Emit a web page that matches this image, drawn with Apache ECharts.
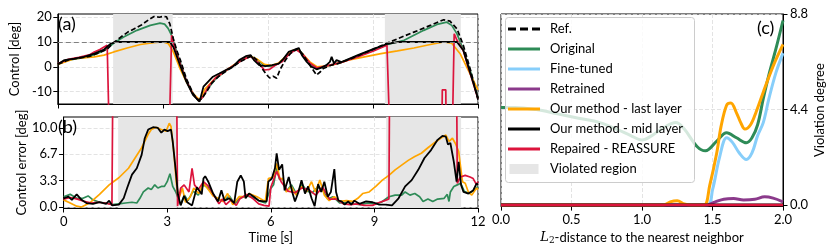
<!DOCTYPE html>
<html><head><meta charset="utf-8">
<script src="https://cdn.jsdelivr.net/npm/echarts@6/dist/echarts.min.js"></script>
<style>html,body{margin:0;padding:0;background:#fff}#c{width:830px;height:250px}</style>
</head><body><div id="c"></div>
<script>
// ---------- tick values ----------
const timeTicks = [0, 3, 6, 9, 12];
const ctrlTicks = [-10, 0, 10, 20];
const errTicks = [0, 10 / 3, 20 / 3, 10];
const distTicks = [0, 0.5, 1, 1.5, 2];
const violTicks = [0, 4.4, 8.8];
const threshold = 10;
const violatedRegions = [[1.58, 3.28], [9.34, 11.51]];

// ---------- (a) control [deg] vs time [s] ----------
const refA = [[0,1],[0.3,2.8],[0.6,3.5],[0.9,4.2],[1.2,5.8],[1.4,7],[1.6,9.8],[1.8,12],[2.0,14],[2.2,15.5],[2.4,17],[2.6,19],[2.75,20.3],[2.9,20],[3.0,20.3],[3.1,20.2],[3.2,17.3],[3.3,11.3],[3.4,6.5],[3.5,2.7],[3.67,-4.7],[3.86,-10.7],[4.0,-13.3],[4.1,-13],[4.25,-10],[4.4,-6.5],[4.6,-3.8],[4.8,-1.8],[5.0,0],[5.2,2],[5.4,3.5],[5.55,4.5],[5.7,2.5],[5.85,-1],[5.95,-3],[6.05,-4.5],[6.15,-3.8],[6.25,-4.6],[6.35,-1],[6.5,2.7],[6.65,5.5],[6.85,7.3],[7.0,5],[7.16,1.5],[7.3,-1.5],[7.39,-3.3],[7.5,-2],[7.58,-0.7],[7.7,0],[7.82,0.7],[8.0,1.3],[8.38,3.3],[8.95,6.7],[9.32,9],[9.7,11.3],[10.17,14],[10.64,16.7],[10.9,18.3],[11.02,19],[11.2,18.4],[11.4,15.3],[11.58,8.7],[11.8,-2],[12,-13.3]];
const origA = [[0,1],[0.3,2.7],[0.6,3.4],[0.9,4.1],[1.2,5.8],[1.4,7.2],[1.6,9.6],[1.88,12],[2.26,14.7],[2.64,16.7],[2.92,17.6],[3.05,17.2],[3.15,15.5],[3.25,12.7],[3.35,8],[3.5,1.5],[3.67,-5.5],[3.86,-11],[4.02,-13.8],[4.15,-12],[4.3,-8.5],[4.5,-5],[4.8,-1.6],[5.0,0.3],[5.3,3],[5.5,4.4],[5.7,2.8],[5.9,0.5],[6.1,0.2],[6.3,1.3],[6.5,4],[6.7,6.5],[6.87,7.3],[7.0,5],[7.2,1.5],[7.4,-0.5],[7.6,0],[7.8,0.8],[8.1,1.8],[8.6,4.6],[9.05,7.2],[9.42,9],[9.89,10.7],[10.45,14.7],[10.83,17.1],[11.11,18],[11.25,16.7],[11.4,13.3],[11.58,7],[11.8,-2.5],[12,-12.5]];
const lastA = [[0,1],[0.47,3.3],[1.04,4],[1.32,4.7],[1.6,6],[1.98,7.6],[2.36,9],[2.73,9.7],[3.01,10],[3.16,9.3],[3.3,6],[3.49,-0.7],[3.67,-6],[3.86,-10.7],[4.0,-12.7],[4.08,-13],[4.2,-9],[4.5,-4.5],[4.8,-1.5],[5.0,0.5],[5.3,3],[5.5,4.3],[5.7,3],[5.9,1],[6.1,0.5],[6.3,1.5],[6.5,4],[6.7,6.5],[6.85,7],[7.0,5],[7.2,2],[7.4,0],[7.6,0.3],[7.82,0.7],[8.29,2.7],[8.76,4],[9.23,5.3],[9.7,6.4],[10.17,7.6],[10.64,9],[11.02,10],[11.25,9.5],[11.49,5.3],[11.77,-2.7],[12,-9.3]];
const midA = [[0,1],[0.19,2.7],[0.47,3.3],[0.75,4],[1.04,5.3],[1.32,7],[1.51,9.3],[1.65,10],[2.0,10],[2.5,10],[3.0,10],[3.2,10],[3.3,8],[3.49,0.7],[3.67,-6],[3.86,-11.3],[4.05,-14],[4.16,-8],[4.43,-4],[4.61,-2.7],[4.8,-1.3],[4.99,0],[5.18,2.7],[5.37,4.3],[5.51,4.7],[5.6,2.7],[5.75,0.7],[5.93,0.3],[6.12,0.7],[6.31,1.3],[6.45,3.3],[6.59,6],[6.73,6.7],[6.88,7.6],[6.97,4.7],[7.11,2],[7.25,0],[7.39,-1],[7.53,-0.3],[7.67,0.7],[7.77,2],[7.82,4],[7.89,1.3],[7.96,2.7],[8.1,1.9],[8.57,4.7],[9.04,7.3],[9.42,9.3],[9.7,10],[10.5,10],[11.4,10],[11.58,6.7],[12,-12.7]];
const reasA = [[0,1.2],[0.3,3],[0.6,3.8],[0.9,4.8],[1.04,6],[1.2,7],[1.32,8],[1.41,8.7],[1.49,-40],[3.16,-40],[3.25,12.7],[3.35,7],[3.5,1],[3.67,-5.5],[3.86,-11],[4.03,-13.8],[4.15,-12],[4.3,-8],[4.5,-4.5],[4.8,-1.5],[5.0,0.3],[5.3,3],[5.5,4.2],[5.7,2],[5.9,-1.3],[6.05,-1],[6.2,0.5],[6.4,2],[6.6,5],[6.8,7],[7.0,5],[7.2,1.5],[7.4,-0.5],[7.6,0.2],[7.8,0.8],[8.1,1.8],[8.6,4.2],[9.0,6.3],[9.4,8.7],[9.51,-40],[10.96,-40],[10.98,-9.3],[11.08,-9.3],[11.1,-40],[11.25,-40],[11.32,13.3],[11.4,10.7],[11.58,6.5],[12,-13]];

// ---------- (b) control error [deg] vs time [s] ----------
const origB = [[0,1.3],[0.19,1.6],[0.38,1.1],[0.56,1.1],[0.71,1.4],[0.85,0.9],[1.04,0.6],[1.23,0.5],[1.41,0.3],[1.6,0.4],[1.79,0.5],[1.98,0.6],[2.12,0.5],[2.21,1.1],[2.31,1.9],[2.45,2.4],[2.54,2.2],[2.64,2.8],[2.73,2.4],[2.83,2.6],[2.92,2.6],[3.0,3.2],[3.08,4.2],[3.16,2.6],[3.25,1.9],[3.31,1.2],[3.39,0.3],[3.5,1.5],[3.6,0.8],[3.75,2.0],[3.9,1.5],[4.05,2.8],[4.2,2.4],[4.35,1.4],[4.5,0.9],[4.65,0.8],[4.8,1.4],[4.95,0.4],[5.1,1.1],[5.3,1.4],[5.5,1.2],[5.7,0.7],[5.85,0.5],[5.98,2.2],[6.08,2.8],[6.17,5.0],[6.25,3.5],[6.35,3.6],[6.45,2.0],[6.6,2.8],[6.75,1.6],[6.9,2.9],[7.05,2.0],[7.2,1.8],[7.35,2.5],[7.5,2.2],[7.65,1.0],[7.8,1.3],[8.0,0.5],[8.2,0.6],[8.4,0.4],[8.6,0.3],[8.8,0.5],[9.0,0.4],[9.2,0.6],[9.42,1.3],[9.6,1.5],[9.79,1.5],[9.89,1.9],[10.03,1.5],[10.17,1.7],[10.31,1.3],[10.41,0.7],[10.55,1.0],[10.69,0.7],[10.83,1.0],[11.02,1.1],[11.11,1.6],[11.16,0.7],[11.2,1.9],[11.3,2.6],[11.4,2.8],[11.5,3.0],[11.6,2.0],[11.75,1.7],[11.9,2.2],[12,2.6]];
const lastB = [[0,0.9],[0.19,0.5],[0.38,0.1],[0.52,0],[0.75,0.5],[1.04,1.6],[1.32,2.8],[1.6,3.7],[1.88,4.9],[2.07,6.2],[2.26,7.5],[2.45,9.2],[2.54,9.8],[2.68,10.1],[2.83,9.8],[2.97,9.6],[3.06,10.6],[3.11,10.2],[3.2,6.6],[3.27,2.8],[3.34,1.1],[3.44,2.4],[3.53,0.6],[3.67,1.3],[3.77,2.4],[3.91,1.7],[4.05,3.0],[4.19,2.2],[4.33,1.4],[4.47,1.1],[4.61,0.7],[4.75,1.7],[4.9,0.3],[5.08,1.3],[5.27,1.3],[5.37,1.7],[5.6,1.3],[5.84,0.7],[5.93,3.6],[6.07,3.8],[6.17,5.5],[6.26,3.6],[6.35,3.6],[6.45,1.9],[6.59,2.6],[6.73,1.5],[6.89,2.6],[7.03,1.9],[7.18,3.2],[7.29,1.9],[7.42,3.4],[7.55,1.5],[7.69,0.8],[7.84,1.3],[8.0,0.7],[8.19,0.8],[8.38,0.7],[8.52,1.1],[8.66,1.7],[8.85,1.9],[9.04,2.6],[9.23,3.4],[9.42,4.0],[9.6,4.7],[9.79,5.3],[9.98,5.9],[10.17,6.4],[10.36,6.8],[10.55,7.5],[10.73,8.1],[10.92,8.7],[11.07,9.1],[11.16,8.3],[11.26,8.7],[11.35,8.0],[11.44,7.0],[11.49,7.0],[11.55,3.2],[11.63,3.0],[11.72,1.9],[11.82,1.5],[11.96,2.4],[12,2.2]];
const midB = [[0,1.1],[0.14,1.3],[0.24,0.9],[0.38,1.6],[0.52,0.9],[0.66,0.5],[0.85,0.4],[1.04,0.6],[1.23,0.4],[1.32,0.8],[1.41,0.2],[1.6,0.3],[1.74,1.1],[1.84,2.4],[1.98,4.1],[2.12,4.9],[2.26,6.6],[2.35,8.7],[2.45,9.8],[2.59,10.1],[2.73,10],[2.83,9.4],[2.92,9.8],[3.01,9.6],[3.11,9.8],[3.16,8.3],[3.25,4.5],[3.31,1.6],[3.39,0.2],[3.49,1.4],[3.58,0.6],[3.72,0.2],[3.86,2.5],[4.0,1.6],[4.05,3.6],[4.1,3.9],[4.19,3.2],[4.33,1.7],[4.47,0.7],[4.57,2.1],[4.66,0.8],[4.8,1.1],[4.94,0.5],[5.03,3.2],[5.13,4.0],[5.22,3.2],[5.27,1.1],[5.37,1.7],[5.51,1.3],[5.65,0.8],[5.79,0.7],[5.88,0.7],[5.93,3.2],[6.03,3.6],[6.12,4.9],[6.17,6.8],[6.24,4.7],[6.33,5.4],[6.4,2.1],[6.52,3.8],[6.62,1.9],[6.7,0.7],[6.8,1.9],[6.89,3.4],[6.99,1.7],[7.08,2.6],[7.18,1.1],[7.27,0.1],[7.37,2.9],[7.46,1.9],[7.55,3.2],[7.65,1.3],[7.74,1.9],[7.84,4.8],[7.89,1.9],[7.96,0.8],[8.05,0.7],[8.14,0.3],[8.24,0.7],[8.33,0.3],[8.42,0.8],[8.57,0.4],[8.76,0.7],[8.95,0.6],[9.14,0.3],[9.32,0.3],[9.51,0.2],[9.7,1.1],[9.89,2.6],[10.08,3.4],[10.27,4.7],[10.45,6.2],[10.64,7.2],[10.83,8.5],[10.97,9.0],[11.07,8.9],[11.13,7.9],[11.2,8.1],[11.3,5.7],[11.38,3.2],[11.44,5.7],[11.51,2.8],[11.58,1.9],[11.72,1.7],[11.86,2.1],[11.96,3.0],[12,2.8]];
const reasB = [[0,1.0],[0.2,1.2],[0.4,1.0],[0.6,0.7],[0.8,0.5],[1.0,0.6],[1.2,0.5],[1.4,0.3],[1.45,30],[3.25,30],[3.3,0.1],[3.39,2.4],[3.49,2.8],[3.63,1.9],[3.72,4.9],[3.79,2.8],[3.9,2.2],[4.05,3.2],[4.2,2.6],[4.35,1.5],[4.5,0.4],[4.6,1.0],[4.7,0.3],[4.85,0.9],[5.0,0.2],[5.1,1.0],[5.3,1.6],[5.5,1.0],[5.65,0.4],[5.8,0.2],[5.95,0.1],[6.0,2.5],[6.17,4.5],[6.3,3.2],[6.5,2.0],[6.7,1.8],[6.9,2.4],[7.1,2.2],[7.3,1.5],[7.5,2.5],[7.7,1.0],[7.9,1.0],[8.1,0.4],[8.3,0.3],[8.5,0.4],[8.7,0.2],[8.95,0.2],[9.1,0.5],[9.3,0.8],[9.42,1.0],[9.46,30],[11.36,30],[11.4,3.0],[11.49,3.8],[11.63,4.0],[11.77,3.8],[11.86,3.6],[11.96,2.8],[12,3.2]];

// ---------- (c) violation degree vs L2-distance ----------
const origC = [[0,4.5],[0.1,4.5],[0.25,4.4],[0.4,4.2],[0.55,4.0],[0.7,3.8],[0.82,3.5],[0.92,3.2],[1.0,3.0],[1.07,3.2],[1.15,3.55],[1.24,3.8],[1.3,3.5],[1.39,2.7],[1.45,2.5],[1.53,2.95],[1.6,3.33],[1.67,3.1],[1.74,2.87],[1.78,3.1],[1.82,3.7],[1.86,4.9],[1.9,6.0],[1.95,7.2],[2.0,8.5]];
const fineC = [[0,0],[1.46,0],[1.5,0.7],[1.55,2.2],[1.6,3.1],[1.64,2.9],[1.69,2.4],[1.74,2.1],[1.78,2.4],[1.82,3.2],[1.86,3.8],[1.9,4.9],[1.95,6.1],[2.0,7.0]];
const retrC = [[0,0],[1.45,0],[1.52,0.15],[1.58,0.27],[1.65,0.3],[1.72,0.24],[1.8,0.27],[1.87,0.38],[1.93,0.32],[2.0,0.15]];
const lastC = [[0,0],[1.15,0],[1.2,0.15],[1.25,0.2],[1.3,0.05],[1.35,0],[1.44,0],[1.48,0.9],[1.53,2.4],[1.56,3.6],[1.6,4.6],[1.63,4.7],[1.67,4.25],[1.7,3.8],[1.73,3.5],[1.77,3.7],[1.81,4.3],[1.86,5.2],[1.93,6.4],[2.0,7.4]];
const midC = [[0,0],[0.5,0],[1.0,0],[1.5,0],[2.0,0]];
const reasC = [[0,0],[0.5,0],[1.0,0],[1.5,0],[2.0,0]];

// ---------- styling ----------
const FONT = 'Lato';
const C = {ref:'#000000', orig:'#2e8b57', fine:'#87cefa', retr:'#8b3a8b', last:'#ffa500', mid:'#000000', reas:'#dc143c', viol:'#e6e6e6'};
const gridLine = {show:true, lineStyle:{color:'#dcdcdc', type:[4,2], width:0.8}};
const tick = {show:true, inside:false, length:4.5, lineStyle:{color:'#000', width:1}};
const axLine = {show:true, onZero:false, lineStyle:{color:'#000', width:1}};
const lab = {color:'#000', fontFamily:FONT, fontSize:13};
const xEdge = {alignMinLabel:'center', alignMaxLabel:'center', hideOverlap:false};
const yEdge = {verticalAlignMinLabel:'middle', verticalAlignMaxLabel:'middle', hideOverlap:false};
// the first time label is placed separately (ECharts 6 pushes it sideways next to the y labels)
const timeTicksShown = timeTicks.filter(v => v !== timeTicks[0]);

function ln(name, data, idx, color, width, extra) {
  return Object.assign({type:'line', name, data, xAxisIndex:idx, yAxisIndex:idx, symbol:'none', showSymbol:false,
    lineStyle:{color, width}, itemStyle:{color}, animation:false, silent:true, z:2}, extra || {});
}

const LINE = 'path://M0,0L37,0M0,12L37,12M0,4.5h32v3h-32z';
const DASH = 'path://M0,0L37,0M0,12L37,12M0,4.5h8v3h-8zM12,4.5h8v3h-8zM24,4.5h8v3h-8z';
const PATCH = 'path://M0,0L37,0M0,12L37,12M1.5,1h29v10h-29z';

const areaData = violatedRegions.map(r => [{xAxis:r[0]}, {xAxis:r[1]}]);
const errMin = -0.13;

const option = {
  animation:false,
  backgroundColor:'#fff',
  textStyle:{fontFamily:FONT},
  grid:[
    {left:53, top:14, width:425, height:90, show:true, borderColor:'#000', borderWidth:1, backgroundColor:'transparent', containLabel:false},
    {left:53, top:117, width:425, height:91, show:true, borderColor:'#000', borderWidth:1, backgroundColor:'transparent', containLabel:false},
    {left:501, top:14, width:282, height:193, show:true, borderColor:'#000', borderWidth:1, backgroundColor:'transparent', containLabel:false}
  ],
  xAxis:[
    {type:'value', gridIndex:0, min:0, max:12, interval:3, axisLine:axLine, axisTick:tick, axisLabel:{show:false}, splitLine:gridLine},
    {type:'value', gridIndex:1, min:0, max:12, interval:3, axisLine:axLine, axisTick:tick, splitLine:gridLine,
      axisLabel:Object.assign({margin:7, customValues:timeTicksShown}, xEdge, lab),
      name:'Time [s]', nameLocation:'middle', nameGap:23, nameTextStyle:lab},
    {type:'value', gridIndex:2, min:0, max:2, interval:0.5, axisLine:axLine, axisTick:tick, splitLine:gridLine,
      axisLabel:Object.assign({margin:7, customValues:distTicks, formatter:v=>v.toFixed(1)}, xEdge, lab),
      name:'{it|L}{sub|2}-distance to the nearest neighbor', nameLocation:'middle', nameGap:22,
      nameTextStyle:Object.assign({rich:{it:{fontFamily:'DejaVu Serif', fontStyle:'italic', fontSize:13, color:'#000'}, sub:{fontFamily:'DejaVu Serif', fontSize:9, color:'#000', padding:[6,0,0,0]}}}, lab)}
  ],
  yAxis:[
    {type:'value', gridIndex:0, min:-15, max:21.3, axisLine:axLine, axisTick:Object.assign({customValues:ctrlTicks}, tick),
      splitLine:gridLine, axisLabel:Object.assign({margin:6, customValues:ctrlTicks}, yEdge, lab),
      name:'Control [deg]', nameLocation:'middle', nameGap:35, nameTextStyle:lab},
    {type:'value', gridIndex:1, min:errMin, max:11.39, axisLine:axLine, axisTick:Object.assign({customValues:errTicks}, tick),
      splitLine:gridLine, axisLabel:Object.assign({margin:6, customValues:errTicks, formatter:v=>v.toFixed(1)}, yEdge, lab),
      name:'Control error [deg]', nameLocation:'middle', nameGap:35, nameTextStyle:lab},
    {type:'value', gridIndex:2, position:'right', min:-0.046, max:8.8, axisLine:axLine, axisTick:Object.assign({customValues:violTicks}, tick),
      splitLine:gridLine, axisLabel:Object.assign({margin:7, customValues:violTicks, formatter:v=>v.toFixed(1)}, yEdge, lab),
      name:'Violation degree', nameLocation:'middle', nameGap:30, nameRotate:90, nameTextStyle:lab}
  ],
  legend:{
    orient:'vertical', left:505, top:17, itemWidth:37, itemHeight:12, itemGap:6,
    padding:[5,10,6,3], backgroundColor:'transparent', borderWidth:0,
    textStyle:{fontFamily:FONT, fontSize:13, color:'#000', lineHeight:14},
    itemStyle:{borderWidth:0}, selectedMode:false, z:10,
    data:[
      {name:'Ref.', icon:DASH, itemStyle:{color:C.ref}},
      {name:'Original', icon:LINE, itemStyle:{color:C.orig}},
      {name:'Fine-tuned', icon:LINE, itemStyle:{color:C.fine}},
      {name:'Retrained', icon:LINE, itemStyle:{color:C.retr}},
      {name:'Our method - last layer', icon:LINE, itemStyle:{color:C.last}},
      {name:'Our method - mid layer', icon:LINE, itemStyle:{color:C.mid}},
      {name:'Repaired - REASSURE', icon:LINE, itemStyle:{color:C.reas}},
      {name:'Violated region', icon:PATCH, itemStyle:{color:C.viol}}
    ]
  },
  graphic:[
    {type:'rect', z:9, silent:true, shape:{x:505.5, y:17.5, width:189, height:165, r:3},
      style:{fill:'rgba(255,255,255,0.8)', stroke:'#cccccc', lineWidth:1}},
    {type:'text', x:58, y:15, z:20, style:{text:'(a)', font:'18px Lato', fill:'#000'}},
    {type:'text', x:58, y:118, z:20, style:{text:'(b)', font:'18px Lato', fill:'#000'}},
    {type:'text', x:757, y:19, z:20, style:{text:'(c)', font:'18px Lato', fill:'#000'}}
  ],
  series:[
    ln('Violated region', [], 0, C.viol, 0, {markArea:{silent:true, itemStyle:{color:C.viol}, data:areaData},
      markLine:{silent:true, symbol:'none', label:{show:false}, lineStyle:{color:'#808080', type:[5,3], width:1}, data:[{yAxis:threshold}]}}),
    ln('Violated region', [], 1, C.viol, 0, {markArea:{silent:true, itemStyle:{color:C.viol}, data:areaData}}),
    ln('Original', origA, 0, C.orig, 1.7),
    ln('Our method - last layer', lastA, 0, C.last, 1.7),
    ln('Repaired - REASSURE', reasA, 0, C.reas, 1.7),
    ln('Our method - mid layer', midA, 0, C.mid, 1.8),
    ln('Ref.', refA, 0, C.ref, 1.7, {lineStyle:{color:C.ref, width:1.7, type:[5,2.5]}}),
    ln('Original', origB, 1, C.orig, 1.7),
    ln('Our method - last layer', lastB, 1, C.last, 1.7),
    ln('Repaired - REASSURE', reasB, 1, C.reas, 1.7),
    ln('Our method - mid layer', midB, 1, C.mid, 1.8),
    ln('Original', origC, 2, C.orig, 3, {smooth:0.35}),
    ln('Fine-tuned', fineC, 2, C.fine, 3, {smooth:0.35}),
    ln('Retrained', retrC, 2, C.retr, 3, {smooth:0.35}),
    ln('Our method - last layer', lastC, 2, C.last, 3, {smooth:0.35}),
    ln('Our method - mid layer', midC, 2, C.mid, 3),
    ln('Repaired - REASSURE', reasC, 2, C.reas, 2.5)
  ]
};
const chart = echarts.init(document.getElementById('c'), null, {renderer:'canvas', width:830, height:250});
chart.setOption(option);
// place the first time tick label through the axis scale, centred on its tick
const p0 = chart.convertToPixel({xAxisIndex:1, yAxisIndex:1}, [timeTicks[0], errMin]);
const mctx = document.createElement('canvas').getContext('2d');
mctx.font = '13px Lato';
const firstLabel = String(timeTicks[0]);
const w0 = mctx.measureText(firstLabel).width;
const g = option.graphic.slice();
g.push({type:'text', x:Math.round(p0[0] - w0 / 2), y:Math.round(p0[1]) + 7, z:20,
  style:{text:firstLabel, font:'13px Lato', fill:'#000', align:'left', verticalAlign:'top'}});
chart.setOption({graphic:g});
</script>
</body></html>
